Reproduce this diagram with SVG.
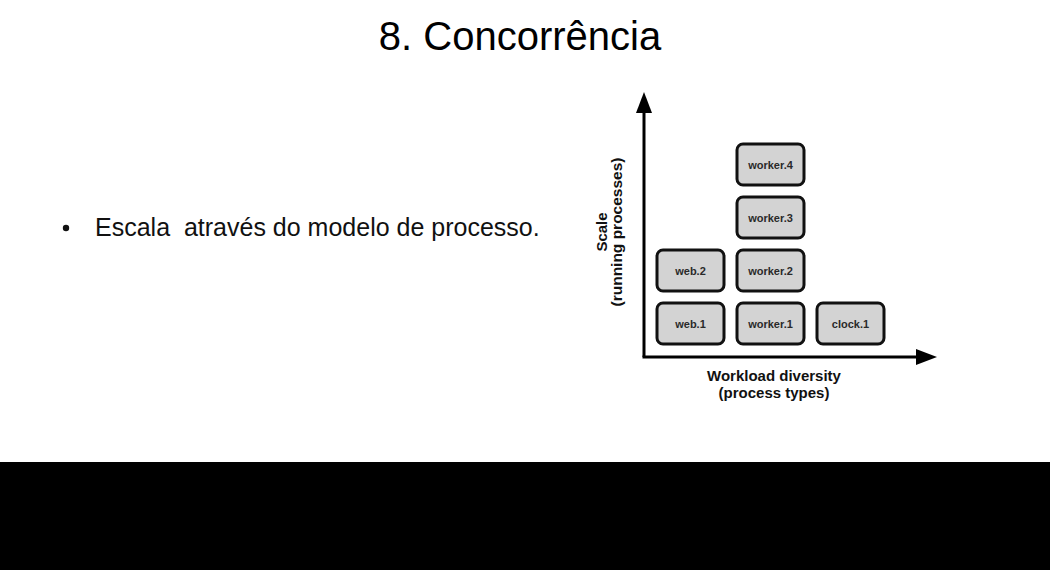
<svg xmlns="http://www.w3.org/2000/svg" width="1050" height="570" viewBox="0 0 1050 570">
  <style>
    .title { font-family: "Liberation Sans", Arial, sans-serif; font-size: 40px; fill: #000; }
    .bullet { font-family: "Liberation Sans", Arial, sans-serif; font-size: 25px; fill: #111; }
    .axislabel { font-family: "Liberation Sans", Arial, sans-serif; font-size: 15px; font-weight: bold; fill: #111; text-anchor: middle; }
    .box rect { fill: #d3d3d3; stroke: #111; stroke-width: 3; }
    .box text { font-family: "Liberation Sans", Arial, sans-serif; font-size: 11px; font-weight: bold; fill: #2a2a2a; text-anchor: middle; }
    .axis { stroke: #000; stroke-width: 3; fill: none; }
    .head { fill: #000; }
  </style>
  <rect x="0" y="0" width="1050" height="570" fill="#ffffff"/>
  <rect x="0" y="462" width="1050" height="108" fill="#000000"/>

  <text class="title" x="520" y="50" text-anchor="middle">8. Concorrência</text>

  <g id="bullet-text">
    <circle cx="66" cy="228" r="3.2" fill="#111"/>
    <text class="bullet" x="95" y="236" xml:space="preserve">Escala  através do modelo de processo.</text>
  </g>

  <g id="connectors">
    <line class="axis" x1="644" y1="110" x2="644" y2="357"/>
    <line class="axis" x1="642.5" y1="357" x2="918" y2="357"/>
    <polygon class="head" points="644,92 636,113 652,113"/>
    <polygon class="head" points="937,357 916,349 916,365"/>
  </g>

  <g id="label-y">
    <text class="axislabel" transform="translate(607,232) rotate(-90)">Scale</text>
    <text class="axislabel" transform="translate(622,232) rotate(-90)" style="font-size:15.5px">(running processes)</text>
  </g>
  <g id="label-x">
    <text class="axislabel" x="774" y="381">Workload diversity</text>
    <text class="axislabel" x="774" y="398">(process types)</text>
  </g>

  <g id="web1" class="box"><rect x="657" y="303" width="67" height="41" rx="6"/><text x="690.5" y="327.5">web.1</text></g>
  <g id="web2" class="box"><rect x="657" y="250" width="67" height="41" rx="6"/><text x="690.5" y="274.5">web.2</text></g>
  <g id="worker1" class="box"><rect x="737" y="303" width="67" height="41" rx="6"/><text x="770.5" y="327.5">worker.1</text></g>
  <g id="worker2" class="box"><rect x="737" y="250" width="67" height="41" rx="6"/><text x="770.5" y="274.5">worker.2</text></g>
  <g id="worker3" class="box"><rect x="737" y="197" width="67" height="41" rx="6"/><text x="770.5" y="221.5">worker.3</text></g>
  <g id="worker4" class="box"><rect x="737" y="144" width="67" height="41" rx="6"/><text x="770.5" y="168.5">worker.4</text></g>
  <g id="clock1" class="box"><rect x="817" y="303" width="67" height="41" rx="6"/><text x="850.5" y="327.5">clock.1</text></g>
</svg>
